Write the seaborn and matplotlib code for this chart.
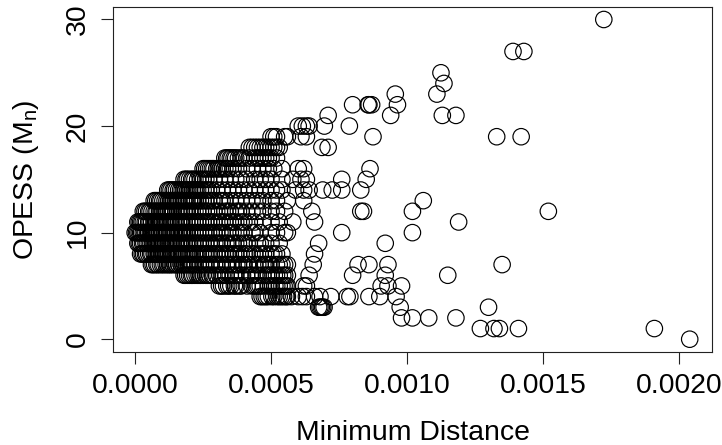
import pandas as pd
import seaborn as sns
import matplotlib.pyplot as plt

# Minimum distance per OPESS level (units of 1e-5)
row_00 = [204]
row_01 = [127, 132, 134, 141, 191]
row_02 = [98, 102, 108, 118]
row_03 = [67.5, 68, 68.5, 69, 69.5, 97.5, 130]
row_04 = [46, 46.7, 47.5, 48.2, 49, 50.3, 51, 52.2, 53, 53.8, 54.6, 55.5, 56, 57.5, 60, 61.5, 63, 66, 68, 72, 78, 79, 86, 90, 96]
row_05 = [31, 31.8, 32.5, 33.7, 34.4, 35.2, 36.5, 37.1, 38.3, 39, 41.2, 43, 43.8, 44.6, 45.3, 46, 47.2, 49, 50, 51.4, 52.1, 53, 54, 54.8, 55.5, 56, 62, 63, 90.5, 93, 98]
row_06 = [18, 18.6, 19.3, 20, 20.7, 21.2, 22, 22.8, 23.5, 24.1, 25, 26, 26.6, 27.4, 28.5, 30, 31.2, 32, 33.4, 35, 36.2, 37, 38.6, 39.5, 41, 42.4, 43, 44.5, 45.2, 47, 48.3, 49, 50, 51.2, 52, 53, 54.3, 55, 56, 64, 80, 92, 115]
row_07 = [6, 6.6, 7.2, 8, 8.5, 9.3, 10, 10.6, 11.4, 12, 12.7, 13.2, 14, 14.8, 15.3, 16.1, 17, 17.6, 18.2, 19, 19.7, 20.4, 21, 22, 23.2, 24, 25.1, 26, 27.4, 28, 29.2, 30, 31.3, 32, 33.5, 34, 35.2, 36, 37.4, 38, 39.6, 40, 41.3, 42, 44, 45.1, 46, 47.6, 48, 49.2, 50, 52, 53, 54, 55, 56, 65.5, 82, 86, 93, 135]
row_08 = [2, 2.6, 3.1, 3.8, 4.3, 5, 5.7, 6.2, 7, 7.4, 8.1, 8.7, 9.2, 10, 10.5, 11.2, 11.8, 12.4, 13, 13.7, 14.3, 15, 15.6, 16.2, 17, 17.5, 18.3, 19, 19.6, 20.2, 21, 21.8, 22.4, 23.2, 24, 25, 26, 26.8, 28, 29, 30, 31.2, 32, 33.3, 34, 35, 36.2, 37, 38.1, 39, 40.3, 41, 43, 44, 46, 47.2, 48, 50, 51, 52, 54, 66]
row_09 = [1, 1.5, 2, 2.7, 3.2, 4, 4.5, 5.2, 5.8, 6.4, 7, 7.7, 8.2, 9, 9.6, 10.1, 11, 11.4, 12.2, 12.8, 13.5, 14, 14.7, 15.2, 16, 16.6, 17.1, 18, 18.8, 19.4, 20, 21, 22, 23.1, 24, 25, 26, 27.2, 28, 29.3, 30, 31, 32, 33.4, 34, 36, 37, 38, 40, 41.2, 42, 45, 46, 48, 50, 53, 67.5, 92]
row_10 = [0, 0.5, 1, 1.5, 2, 2.4, 3, 3.6, 4, 4.7, 5, 5.6, 6, 6.8, 7.2, 8, 8.4, 9, 9.7, 10.2, 11, 11.5, 12, 12.6, 13.3, 14, 14.4, 15, 15.8, 16.3, 17, 17.4, 18, 18.7, 19, 20, 21, 22, 23, 24, 25.2, 26, 27, 28, 29, 30, 31.2, 32, 34, 35, 36, 38, 39, 40, 43, 44, 46, 50, 52, 55, 56, 76, 102]
row_11 = [1, 1.5, 2, 2.5, 3, 3.7, 4.2, 5, 5.5, 6.1, 7, 7.5, 8, 8.8, 9.4, 10, 10.7, 11.3, 12, 12.5, 13.2, 14, 14.6, 15.1, 16, 16.7, 17.2, 18, 19, 20, 21, 22, 23, 24, 25, 26, 27, 28, 29, 31, 32, 33, 35, 36, 37, 39, 40, 42, 44, 47, 50, 53, 58, 66, 119]
row_12 = [3, 3.6, 4.2, 5, 5.5, 6.2, 7, 7.7, 8.1, 9, 9.6, 10.3, 11, 11.5, 12.2, 13, 13.6, 14.1, 15, 15.8, 16.4, 17, 18, 18.7, 19.2, 20, 21, 22, 23, 24, 25, 26.2, 27, 29, 30, 31, 33, 34, 35, 37, 38, 39, 41, 43, 45, 47, 50, 52, 55, 65, 83, 84, 102, 152]
row_13 = [7, 7.6, 8.3, 9, 9.5, 10.2, 11, 11.7, 12.3, 13, 13.6, 14.2, 15, 15.7, 16.1, 17, 17.8, 18.4, 19, 20, 20.8, 21.4, 22, 23, 24, 25, 26, 27, 28.2, 29, 31, 32, 33, 35, 37, 39, 41, 43, 45, 47, 50, 52, 56, 62, 106]
row_14 = [12, 12.6, 13.2, 14, 14.5, 15.2, 16, 16.7, 17.3, 18, 18.6, 19.4, 20, 21, 21.7, 22.4, 23, 24, 25, 26, 27, 28, 30, 32, 34, 36, 38, 40, 42, 44, 46, 48, 50, 52, 54, 59, 62, 64, 69, 72.5, 76, 83]
row_15 = [18, 18.7, 19.2, 20, 20.8, 21.3, 22, 23, 24, 25, 26, 27, 29, 31, 33, 35, 37, 39, 41, 44, 46, 48, 50, 54, 58, 61, 63, 76, 85]
row_16 = [25, 25.6, 26.3, 27, 27.7, 28.4, 29, 30, 30.6, 31.3, 32, 33, 34, 36, 38, 41, 43, 45, 47, 49, 51, 54, 60, 62, 86.4]
row_17 = [33, 33.7, 34.2, 35, 35.6, 36.4, 37, 38, 39, 40, 42, 44, 45, 46, 47, 48, 49, 50, 52]
row_18 = [42, 43, 44, 45, 46, 47, 48, 49, 50, 51, 52, 53, 68.7, 71]
row_19 = [50, 51, 52, 55, 56, 61, 63, 87.5, 133, 142]
row_20 = [60, 61.5, 63, 64, 69.6, 78.8]
row_21 = [71, 94, 113, 118]
row_22 = [80, 85.7, 86, 87, 96.5]
row_23 = [95.7, 111]
row_24 = [113.6]
row_25 = [112.5]
row_27 = [139, 143]
row_30 = [172.4]

opess_levels = [0, 1, 2, 3, 4, 5, 6, 7, 8, 9, 10, 11, 12, 13, 14, 15, 16, 17, 18, 19, 20, 21, 22, 23, 24, 25, 27, 30]
all_rows = [row_00, row_01, row_02, row_03, row_04, row_05, row_06, row_07, row_08, row_09,
            row_10, row_11, row_12, row_13, row_14, row_15, row_16, row_17, row_18, row_19,
            row_20, row_21, row_22, row_23, row_24, row_25, row_27, row_30]

x_ticks = [0.0, 0.0005, 0.001, 0.0015, 0.002]
x_tick_labels = ["0.0000", "0.0005", "0.0010", "0.0015", "0.0020"]
y_ticks = [0, 10, 20, 30]

# Long table for seaborn
frames = []
for level, row in zip(opess_levels, all_rows):
    frames.append(pd.DataFrame({"dist": [v * 1e-5 for v in row], "opess": level}))
df = pd.concat(frames, ignore_index=True)

sns.set_style("white")
plt.rcParams["font.family"] = ["Liberation Sans", "DejaVu Sans"]
plt.rcParams["mathtext.fontset"] = "custom"
plt.rcParams["mathtext.rm"] = "Liberation Sans"
plt.rcParams["mathtext.default"] = "regular"
plt.rcParams["text.color"] = "black"
plt.rcParams["axes.labelcolor"] = "black"
plt.rcParams["xtick.labelcolor"] = "black"
plt.rcParams["ytick.labelcolor"] = "black"

W, H = 722, 445
FS = 20.4
fig = plt.figure(figsize=(W / 100, H / 100), dpi=100)
ax = fig.add_axes([113.3 / W, 1 - 352 / H, (712 - 113.3) / W, (352 - 6.7) / H])

sns.scatterplot(data=df, x="dist", y="opess", ax=ax, s=140, marker="o",
                facecolors="none", edgecolor="black", linewidth=0.85, legend=False)

ax.set_xlim(-0.0000803, 0.002122)
ax.set_ylim(-1.2, 31.2)
ax.set_xticks(x_ticks)
ax.set_xticklabels(x_tick_labels)
ax.set_yticks(y_ticks)
ax.tick_params(axis="x", length=8.6, width=0.8, color="#222222", labelsize=FS, pad=6.5, bottom=True)
ax.tick_params(axis="y", length=8.6, width=0.8, color="#222222", labelsize=FS, pad=7.5, left=True)
for lab in ax.get_yticklabels():
    lab.set_rotation(90)
    lab.set_va("center")
for s in ax.spines.values():
    s.set_linewidth(0.8)
    s.set_color("#222222")

ax.set_xlabel("Minimum Distance", fontsize=FS)
ax.set_ylabel("OPESS (M$_n$)", fontsize=FS)
ax.xaxis.set_label_coords(0.5, -(420 - 352) / 345.3)
ax.yaxis.set_label_coords(-(113.3 - 41) / 598.7, 0.5)

plt.savefig("out.png", dpi=100)
